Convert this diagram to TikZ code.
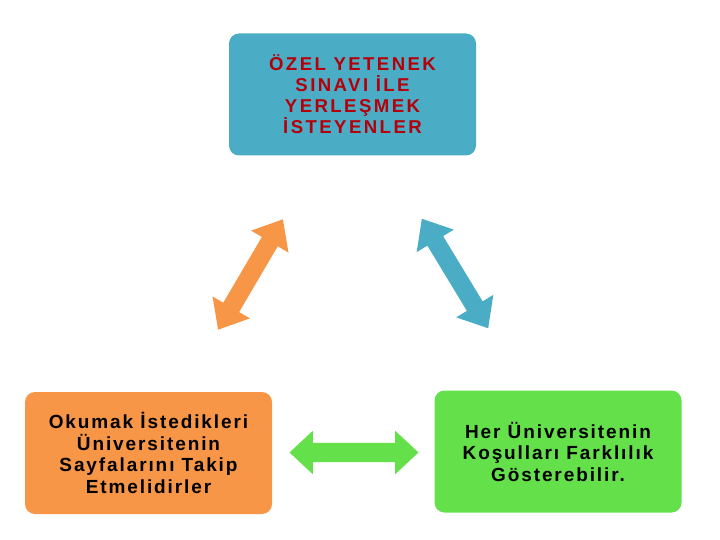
\documentclass[tikz,border=0pt]{standalone}
\usepackage{fontspec}
\setmainfont{Liberation Sans}
\newfontfamily\topfont{Liberation Sans}[LetterSpace=13]
\newfontfamily\boxfont{Liberation Sans}[LetterSpace=10]
\usetikzlibrary{shapes.arrows}
\definecolor{kutumavi}{RGB}{75,172,198}
\definecolor{kuturuncu}{RGB}{247,150,70}
\definecolor{kutyesil}{RGB}{100,224,74}
\definecolor{yazikirmizi}{RGB}{180,0,10}

\begin{document}
\begin{tikzpicture}[x=1pt,y=-1pt,
	kutu/.style={rectangle,rounded corners=10pt,minimum width=247pt,minimum height=122pt,
		align=center,font=\boxfont\bfseries\fontsize{19}{21.5}\selectfont},
	okcift/.style={double arrow,inner xsep=0pt,inner ysep=9pt,double arrow head indent=0pt,
		double arrow head extend=12.5pt,double arrow tip angle=80,minimum height=128pt}]
\useasboundingbox (0,0) rectangle (720,540);
\node[kutu,fill=kutumavi,text=yazikirmizi,font=\topfont\bfseries\fontsize{18.6}{21}\selectfont]
		(ozel)	at (352.5,94.5)	{ÖZEL YETENEK\\SINAVI İLE\\YERLEŞMEK\\İSTEYENLER};
\node[kutu,fill=kuturuncu]	(okumak)	at (148.5,453)	{Okumak İstedikleri\\Üniversitenin\\Sayfalarını Takip\\Etmelidirler};
\node[kutu,fill=kutyesil]	(kosul)	at (558,451.5)	{Her Üniversitenin\\Koşulları Farklılık\\Gösterebilir.};
\node[okcift,fill=kuturuncu,rotate=59.6]	(ok_sol)	at (250.5,274.5)	{};
\node[okcift,fill=kutumavi,rotate=121.2]	(ok_sag)	at (455,273.5)	{};
\node[okcift,fill=kutyesil,inner ysep=9.5pt,double arrow head extend=12pt,
	double arrow tip angle=86,minimum height=129pt]	(ok_alt)	at (354,452.5)	{};
\end{tikzpicture}
\end{document}
